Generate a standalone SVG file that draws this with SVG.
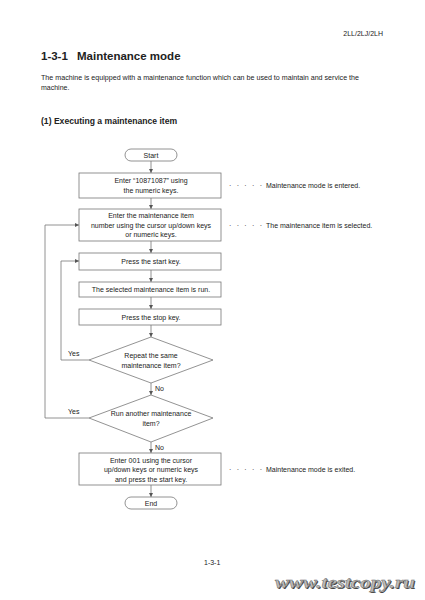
<svg xmlns="http://www.w3.org/2000/svg" width="425" height="600" viewBox="0 0 425 600">
<defs>
<marker id="ah" markerWidth="4" markerHeight="4" refX="4" refY="2" orient="auto" markerUnits="userSpaceOnUse"><path d="M0,0 L4,2 L0,4 z" fill="#555"/></marker>
</defs>
<style>
.t{font-family:"Liberation Sans",Arial,sans-serif;fill:#222}
.n{font-size:7px;text-anchor:middle}
.a{font-size:7px}
.s{fill:#fff;stroke:#777;stroke-width:0.8}
.c{fill:none;stroke:#777;stroke-width:0.8}
.w{font-family:"Liberation Serif",serif;font-style:italic;font-weight:bold;font-size:17px}
</style>
<rect width="425" height="600" fill="#fff"/>
<text class="t" x="383" y="36" font-size="7" text-anchor="end">2LL/2LJ/2LH</text>
<text class="t" x="41" y="59.5" font-size="11.5" font-weight="bold">1-3-1</text>
<text class="t" x="77" y="59.5" font-size="11.5" font-weight="bold">Maintenance mode</text>
<text class="t a" x="41" y="80" textLength="318" lengthAdjust="spacingAndGlyphs">The machine is equipped with a maintenance function which can be used to maintain and service the</text>
<text class="t a" x="41" y="90">machine.</text>
<text class="t" x="41" y="124" font-size="8.6" font-weight="bold">(1) Executing a maintenance item</text>

<g id="connectors">
<path class="c" d="M151,161 V173" marker-end="url(#ah)"/>
<path class="c" d="M151,198 V209" marker-end="url(#ah)"/>
<path class="c" d="M151,241 V253" marker-end="url(#ah)"/>
<path class="c" d="M151,270 V282" marker-end="url(#ah)"/>
<path class="c" d="M151,297 V309" marker-end="url(#ah)"/>
<path class="c" d="M151,325 V337" marker-end="url(#ah)"/>
<path class="c" d="M151,383 V395" marker-end="url(#ah)"/>
<path class="c" d="M151,442 V453" marker-end="url(#ah)"/>
<path class="c" d="M151,485 V497" marker-end="url(#ah)"/>
<path class="c" d="M89,360 H61 V261 H79" marker-end="url(#ah)"/>
<path class="c" d="M89,418 H45 V225 H79" marker-end="url(#ah)"/>
<text class="t a" x="68" y="356">Yes</text>
<text class="t a" x="68" y="414">Yes</text>
<text class="t a" x="155" y="391">No</text>
<text class="t a" x="155" y="450">No</text>
</g>

<g id="start"><rect class="s" x="125" y="149" width="52" height="12" rx="6"/><text class="t n" x="151" y="157.5">Start</text></g>
<g id="box1"><rect class="s" x="79" y="173" width="142" height="25"/><text class="t n" x="151" y="183">Enter “10871087” using</text><text class="t n" x="151" y="192.5">the numeric keys.</text></g>
<g id="box2"><rect class="s" x="79" y="209" width="142" height="32"/><text class="t n" x="151" y="218">Enter the maintenance item</text><text class="t n" x="151" y="227.5">number using the cursor up/down keys</text><text class="t n" x="151" y="237">or numeric keys.</text></g>
<g id="box3"><rect class="s" x="79" y="253" width="142" height="17"/><text class="t n" x="151" y="264">Press the start key.</text></g>
<g id="box4"><rect class="s" x="79" y="282" width="142" height="15"/><text class="t n" x="151" y="292">The selected maintenance item is run.</text></g>
<g id="box5"><rect class="s" x="79" y="309" width="142" height="16"/><text class="t n" x="151" y="319.5">Press the stop key.</text></g>
<g id="dec1"><path class="s" d="M151,337 L213,360 L151,383 L89,360 Z"/><text class="t n" x="151" y="358">Repeat the same</text><text class="t n" x="151" y="367.5">maintenance item?</text></g>
<g id="dec2"><path class="s" d="M151,395 L213,418 L151,442 L89,418 Z"/><text class="t n" x="151" y="416">Run another maintenance</text><text class="t n" x="151" y="425.5">item?</text></g>
<g id="box6"><rect class="s" x="79" y="453" width="142" height="32"/><text class="t n" x="151" y="462.5">Enter 001 using the cursor</text><text class="t n" x="151" y="472">up/down keys or numeric keys</text><text class="t n" x="151" y="481.5">and press the start key.</text></g>
<g id="end"><rect class="s" x="125" y="497" width="52" height="12" rx="6"/><text class="t n" x="151" y="505.5">End</text></g>

<g id="notes">
<text class="t a" x="229" y="188" fill="#555" xml:space="preserve" textLength="33">· · · · ·</text><text class="t a" x="266" y="188">Maintenance mode is entered.</text>
<text class="t a" x="229" y="228" fill="#555" xml:space="preserve" textLength="33">· · · · ·</text><text class="t a" x="266" y="228">The maintenance item is selected.</text>
<text class="t a" x="229" y="472" fill="#555" xml:space="preserve" textLength="33">· · · · ·</text><text class="t a" x="266" y="472">Maintenance mode is exited.</text>
</g>

<text class="t" x="204" y="565" font-size="7">1-3-1</text>
<text class="w" x="276" y="589" fill="#444" textLength="140" lengthAdjust="spacingAndGlyphs">www.testcopy.ru</text>
<text class="w" x="275" y="588" fill="#bbb" stroke="#666" stroke-width="0.4" textLength="140" lengthAdjust="spacingAndGlyphs">www.testcopy.ru</text>
</svg>
